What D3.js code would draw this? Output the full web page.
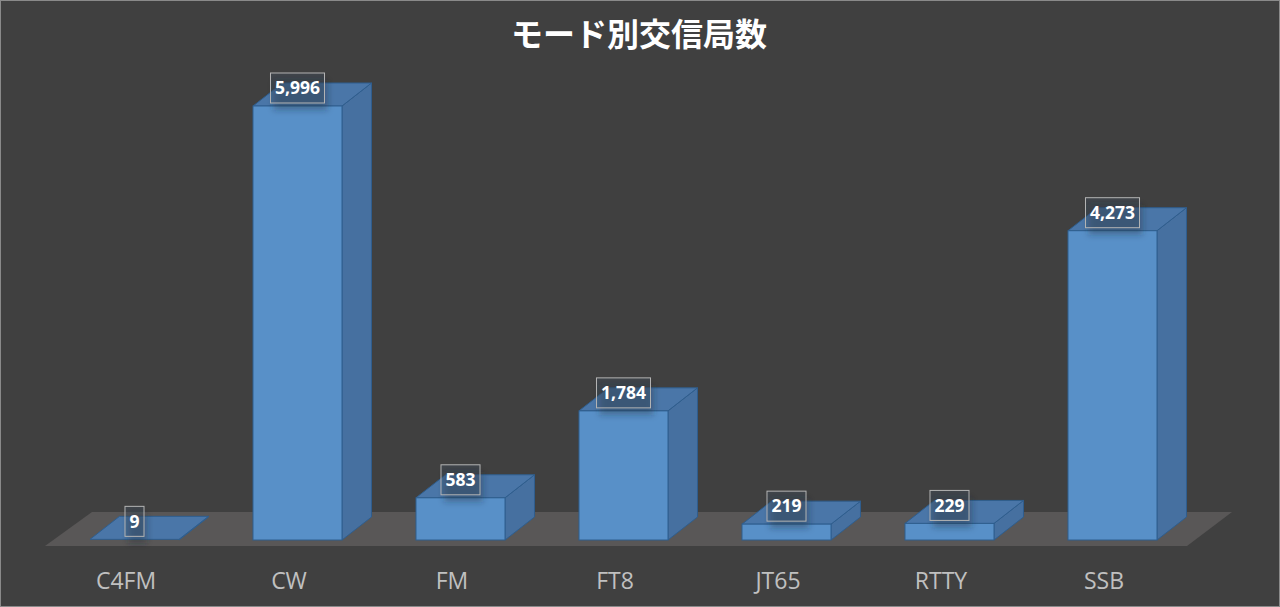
<!DOCTYPE html>
<html><head><meta charset="utf-8">
<script src="https://cdn.jsdelivr.net/npm/d3@7"></script>
<style>html,body{margin:0;padding:0;background:#404040;}svg{display:block;}</style>
</head><body>
<script>
const title = "モード別交信局数";
const categories = ["C4FM","CW","FM","FT8","JT65","RTTY","SSB"];
const values = [9,5996,583,1784,219,229,4273];

const W = 1280, H = 607;
const svg = d3.select("body").append("svg").attr("width", W).attr("height", H);
svg.append("rect").attr("x",0.5).attr("y",0.5).attr("width",W-1).attr("height",H-1)
  .attr("fill","#404040").attr("stroke","#8a8a8a");

const defs = svg.append("defs");
const f = defs.append("filter").attr("id","sh").attr("x","-50%").attr("y","-50%").attr("width","200%").attr("height","200%");
f.append("feGaussianBlur").attr("stdDeviation",3);

svg.append("text").attr("x",639).attr("y",46).attr("text-anchor","middle")
  .attr("font-family","'Noto Sans CJK JP'").attr("font-size",32).attr("font-weight",700)
  .attr("fill","#ffffff").text(title);

// scales
const x = d3.scaleBand().domain(categories).range([53,1194]).paddingInner(0.454).paddingOuter(0.227);
const y = d3.scaleLinear().domain([0,6000]).range([540,105.7]);
const ddx = 29.5, ddy = -23;

// floor
const floorFront = 546, floorBack = 512;
svg.append("polygon")
  .attr("points", [[45,floorFront],[1187,floorFront],[1232,floorBack],[92,floorBack]].map(p=>p.join(",")).join(" "))
  .attr("fill","#595757");

const g = svg.append("g");
const bars = g.selectAll("g.bar").data(categories.map((c,i)=>({c, v: values[i]}))).join("g");
const stroke = "#2f5e8e";
bars.each(function(d){
  const s = d3.select(this);
  const x0 = x(d.c), x1 = x0 + x.bandwidth();
  const yb = y(0), yt = y(d.v);
  s.append("polygon").attr("points",[[x1,yb],[x1+ddx,yb+ddy],[x1+ddx,yt+ddy],[x1,yt]].join(" "))
   .attr("fill","#4670a0").attr("stroke",stroke).attr("stroke-width",1).attr("stroke-linejoin","round");
  s.append("polygon").attr("points",[[x0,yt],[x1,yt],[x1+ddx,yt+ddy],[x0+ddx,yt+ddy]].join(" "))
   .attr("fill","#4a76a8").attr("stroke",stroke).attr("stroke-width",1).attr("stroke-linejoin","round");
  if (yb - yt > 1)
  s.append("rect").attr("x",x0).attr("y",yt).attr("width",x1-x0).attr("height",yb-yt)
   .attr("fill","#5890c8").attr("stroke",stroke).attr("stroke-width",1);
});

// labels
const fmt = d3.format(",");
bars.each(function(d){
  const s = d3.select(this);
  const cx = x(d.c) + x.bandwidth()/2;
  const cy = y(d.v) - 18;
  const t = s.append("text").attr("x",cx).attr("y",cy+6.3).attr("text-anchor","middle")
    .attr("font-family","'Open Sans'").attr("font-weight",700).attr("font-size",17.5)
    .attr("fill","#ffffff").text(fmt(d.v));
  const bb = t.node().getBBox();
  const bw = bb.width + 9, bh = 30;
  s.insert("rect", "text").attr("x",cx-bw/2+3).attr("y",cy-bh/2+7).attr("width",bw).attr("height",bh)
    .attr("fill","rgba(30,40,55,0.35)").attr("filter","url(#sh)");
  s.insert("rect", "text").attr("x",cx-bw/2).attr("y",cy-bh/2).attr("width",bw).attr("height",bh)
    .attr("fill","rgba(64,80,100,0.3)").attr("stroke","#b4b4b4").attr("stroke-width",1);
});

// axis labels
svg.append("g").selectAll("text").data(categories).join("text")
  .attr("x", d => x(d) + x.bandwidth()/2 - 8.5).attr("y",589).attr("text-anchor","middle")
  .attr("font-family","'Open Sans'").attr("font-size",23).attr("fill","#c0c0c0").text(d=>d);
</script>
</body></html>
